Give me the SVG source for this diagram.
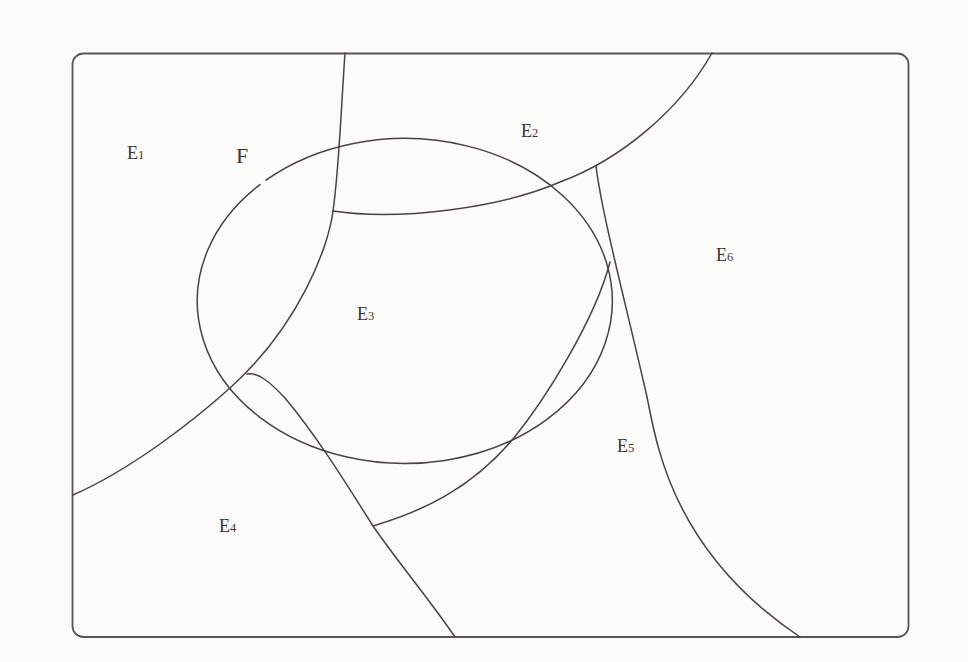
<svg xmlns="http://www.w3.org/2000/svg" width="968" height="662" viewBox="0 0 968 662">
<style>
.ln{fill:none;stroke:#4a4242;stroke-width:1.5;stroke-linecap:round;stroke-linejoin:round}
.fr{fill:none;stroke:#5a5555;stroke-width:1.8}
.lb{font-family:"Liberation Serif","Times New Roman",serif;font-size:18px;fill:#3a3535}
.sub{font-size:12.5px}
</style>
<rect width="968" height="662" fill="#fbfbfa"/>
<rect id="frame" class="fr" x="72.5" y="53.5" width="836" height="583.5" rx="11"/>
<g id="curves">
<path id="ellipse-F" class="ln" d="M266,180.2 A207.5,162.5 0 1 1 260,184.6"/>
<path id="curve-A" class="ln" d="M345,53 C341,110 339,170 333,211 C329,245 300,325 230,388 C191,423 130,470 73,495"/>
<path id="curve-B" class="ln" d="M333,211 C400,221 500,208 560,182 C620,160 680,110 712,53"/>
<path id="curve-C" class="ln" d="M596,166 C602,215 625,300 647,397 C656,440 670,550 800,637"/>
<path id="curve-D" class="ln" d="M373,526 C420,512 470,490 513,439 C545,400 595,320 610,262"/>
<path id="curve-E" class="ln" d="M247,374 C258,372 270,382 285,398 C320,440 350,490 373,526 C400,565 430,600 455,637"/>
</g>
<g id="labels">
<text id="E1" class="lb" x="127" y="159">E<tspan class="sub">1</tspan></text>
<text id="F" class="lb" x="236" y="163" style="font-size:22px">F</text>
<text id="E2" class="lb" x="521" y="137">E<tspan class="sub">2</tspan></text>
<text id="E3" class="lb" x="357" y="320">E<tspan class="sub">3</tspan></text>
<text id="E4" class="lb" x="219" y="532">E<tspan class="sub">4</tspan></text>
<text id="E5" class="lb" x="617" y="452">E<tspan class="sub">5</tspan></text>
<text id="E6" class="lb" x="716" y="261">E<tspan class="sub">6</tspan></text>
</g>
</svg>
